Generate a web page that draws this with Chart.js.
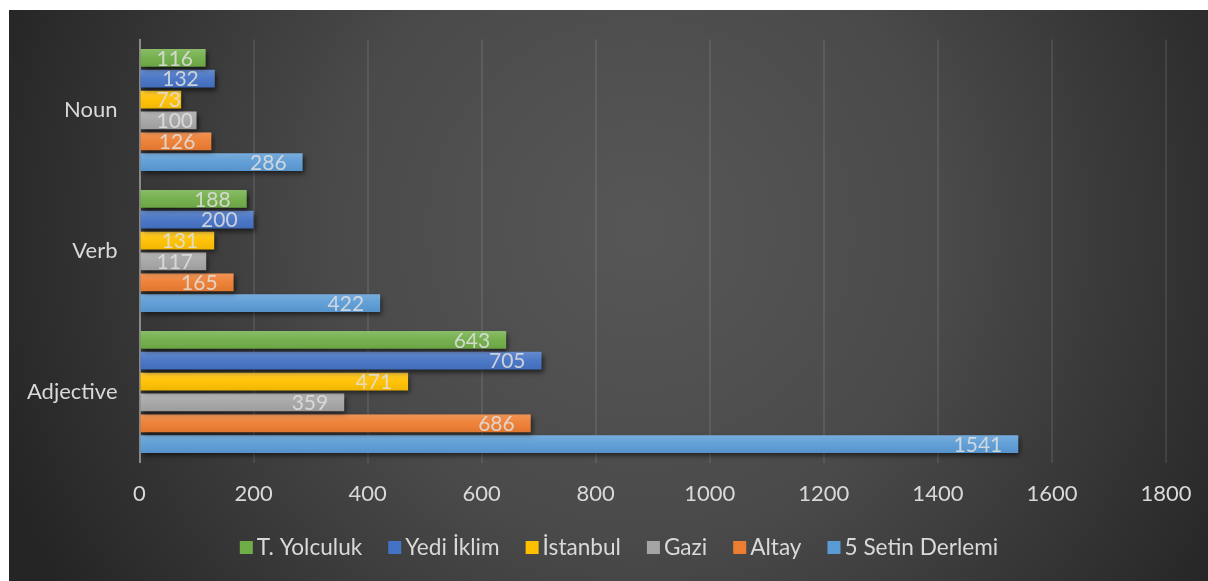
<!DOCTYPE html>
<html><head><meta charset="utf-8">
<script src="https://cdn.jsdelivr.net/npm/chart.js@4"></script>
<style>html,body{margin:0;padding:0;background:#fff;overflow:hidden}#wrap{width:1208px;height:581px;position:relative}</style>
</head><body><div id="wrap"><canvas id="c" width="1208" height="581"></canvas></div>
<script>
const categories = ['Noun', 'Verb', 'Adjective'];
const seriesNames = ['T. Yolculuk', 'Yedi İklim', 'İstanbul', 'Gazi', 'Altay', '5 Setin Derlemi'];
const tYolculuk = [116, 188, 643];
const yediIklim = [132, 200, 705];
const istanbul = [73, 131, 471];
const gazi = [100, 117, 359];
const altay = [126, 165, 686];
const setinDerlemi = [286, 422, 1541];
const xTickValues = [0, 200, 400, 600, 800, 1000, 1200, 1400, 1600, 1800];
const seriesColors = ['#70ad47', '#4472c4', '#ffc000', '#a5a5a5', '#ed7d31', '#5b9bd5'];

const seriesValues = [tYolculuk, yediIklim, istanbul, gazi, altay, setinDerlemi];
const FONT = 'Lato, "Open Sans", sans-serif';

const bgPlugin = {
  id: 'bg',
  beforeDraw(chart) {
    const ctx = chart.ctx;
    ctx.save();
    const g = ctx.createRadialGradient(640, 230, 0, 640, 230, 680);
    g.addColorStop(0, '#575757');
    g.addColorStop(0.45, '#4a4a4a');
    g.addColorStop(1, '#252525');
    ctx.fillStyle = g;
    ctx.fillRect(9, 10, 1208 - 9, 581 - 10);
    ctx.restore();
  }
};

const shadowPlugin = {
  id: 'shadow',
  beforeDatasetsDraw(chart) {
    const ctx = chart.ctx;
    ctx.save();
    ctx.shadowColor = 'rgba(0,0,0,0.6)';
    ctx.shadowBlur = 5;
    ctx.shadowOffsetX = 2;
    ctx.shadowOffsetY = 3;
  },
  afterDatasetsDraw(chart) {
    chart.ctx.restore();
    const ctx = chart.ctx;
    ctx.save();
    chart.data.datasets.forEach((ds, di) => {
      const meta = chart.getDatasetMeta(di);
      meta.data.forEach((bar) => {
        const h = bar.height;
        const top = bar.y - h / 2;
        const g = ctx.createLinearGradient(0, top, 0, top + h);
        g.addColorStop(0, 'rgba(255,255,255,0.18)');
        g.addColorStop(0.5, 'rgba(255,255,255,0.04)');
        g.addColorStop(1, 'rgba(0,0,0,0.06)');
        ctx.fillStyle = g;
        ctx.fillRect(bar.base, top, bar.x - bar.base, h);
      });
    });
    ctx.font = '21px ' + FONT;
    ctx.fillStyle = 'rgba(225,225,225,0.85)';
    ctx.textAlign = 'right';
    ctx.textBaseline = 'middle';
    chart.data.datasets.forEach((ds, di) => {
      const meta = chart.getDatasetMeta(di);
      meta.data.forEach((bar, i) => {
        const txt = String(ds.data[i]);
        const w = ctx.measureText(txt).width;
        const x = Math.max(bar.x - 16, bar.base + 16 + w);
        ctx.fillText(txt, x, bar.y + 1);
      });
    });
    ctx.restore();
  }
};

const legendPlugin = {
  id: 'customLegend',
  afterDraw(chart) {
    const ctx = chart.ctx;
    ctx.save();
    ctx.font = '22.6px ' + FONT;
    ctx.textBaseline = 'middle';
    ctx.textAlign = 'left';
    const box = 13, gapBox = 4, gapItem = 26;
    const items = chart.data.datasets.map(d => ({ label: d.label, color: d.baseColor }));
    let total = 0;
    items.forEach((it, i) => { it.w = ctx.measureText(it.label).width; total += box + gapBox + it.w + (i ? gapItem : 0); });
    let x = 619 - total / 2;
    const cy = 548;
    items.forEach((it) => {
      ctx.fillStyle = it.color;
      ctx.fillRect(x, cy - 7, box, 13);
      ctx.fillStyle = '#d9d9d9';
      ctx.fillText(it.label, x + box + gapBox, cy);
      x += box + gapBox + it.w + gapItem;
    });
    ctx.restore();
  }
};

new Chart(document.getElementById('c'), {
  type: 'bar',
  data: {
    labels: categories,
    datasets: seriesNames.map((name, i) => ({
      label: name,
      data: seriesValues[i],
      backgroundColor: seriesColors[i],
      baseColor: seriesColors[i],
      borderWidth: 0,
      categoryPercentage: 0.888,
      barPercentage: 0.85
    }))
  },
  options: {
    indexAxis: 'y',
    responsive: false,
    animation: false,
    devicePixelRatio: 1,
    layout: { padding: { left: 0, right: 42, top: 39.5, bottom: 0 } },
    plugins: { legend: { display: false }, tooltip: { enabled: false } },
    scales: {
      x: {
        min: 0, max: 1800,
        afterBuildTicks(scale) { scale.ticks = xTickValues.map(v => ({ value: v })); },
        afterFit(scale) { scale.height = 118.5; scale.paddingRight = 0; scale.paddingLeft = 0; },
        grid: {
          drawTicks: false,
          color: (c) => c.index === 0 ? 'rgba(0,0,0,0)' : 'rgba(255,255,255,0.09)',
          lineWidth: 2
        },
        border: { display: false },
        ticks: { color: '#d9d9d9', font: { family: FONT, size: 22 }, padding: 18, callback: (v) => String(v) }
      },
      y: {
        afterFit(scale) { scale.width = 139.5; },
        grid: { display: false, drawTicks: false },
        border: { display: true, color: '#8a8a8a', width: 2 },
        ticks: { color: '#d9d9d9', font: { family: FONT, size: 22 }, padding: 22 }
      }
    }
  },
  plugins: [bgPlugin, shadowPlugin, legendPlugin]
});
</script></body></html>
